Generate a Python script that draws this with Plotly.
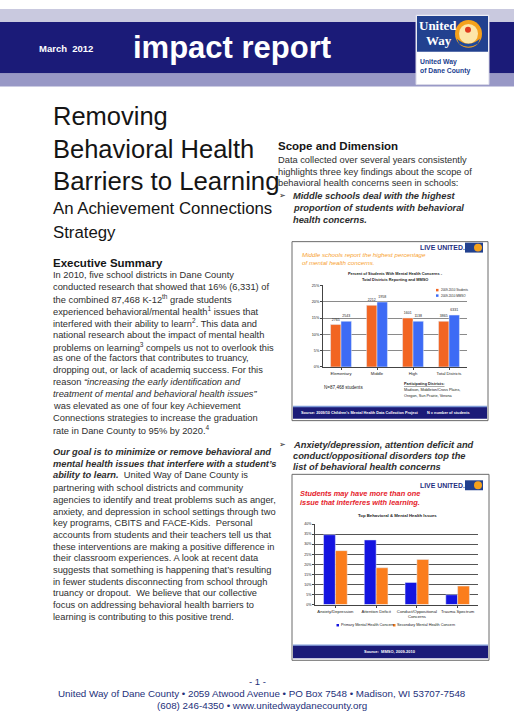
import plotly.graph_objects as go

W, H = 514, 713
def px(x): return x / W
def py(y): return 1 - y / H

# ---------------- data ----------------
levels = ["Elementary", "Middle", "High", "Total Districts"]
pct_students = [13.0, 18.9, 15.0, 14.0]
pct_mmso = [14.0, 19.9, 14.0, 15.9]
n_students = ["2765", "2212", "1601", "3865"]
n_mmso = ["2543", "1958", "1138", "6331"]
y1_ticks = [0, 5, 10, 15, 20, 25]

issues = ["Anxiety/Depression", "Attention Deficit", "Conduct/Oppositional<br>Concerns", "Trauma Spectrum"]
primary = [34.7, 32.1, 11.0, 4.9]
secondary = [26.8, 18.3, 22.4, 9.2]
y2_ticks = [0, 5, 10, 15, 20, 25, 30, 35, 40]

FONT = "Liberation Sans, Arial, sans-serif"
SERIF = "Liberation Serif, DejaVu Serif, serif"
BODY = "#2e2e2e"
NAVY = "#1b1b78"
OR1, BL1 = "#f26522", "#3d6bf5"
OR2, BL2 = "#fb7d1c", "#1414e0"

fig = go.Figure()
fig.add_trace(go.Bar(x=levels, y=pct_students, name="2009-2010 Students", marker_color=OR1,
                     text=n_students, textposition="outside", cliponaxis=False,
                     textfont=dict(size=3.5, color="#222", family=FONT),
                     xaxis="x", yaxis="y", showlegend=False))
fig.add_trace(go.Bar(x=levels, y=pct_mmso, name="2009-2010 MMSO", marker_color=BL1,
                     text=n_mmso, textposition="outside", cliponaxis=False,
                     textfont=dict(size=3.5, color="#222", family=FONT),
                     xaxis="x", yaxis="y", showlegend=False))
fig.add_trace(go.Bar(x=issues, y=primary, name="Primary Mental Health Concern", marker_color=BL2,
                     xaxis="x2", yaxis="y2", showlegend=False))
fig.add_trace(go.Bar(x=issues, y=secondary, name="Secondary Mental Health Concern", marker_color=OR2,
                     xaxis="x2", yaxis="y2", showlegend=False))

shapes = []
ann = []

def R(x0, y0, x1, y1, fill, line=None, lw=0, layer="below"):
    shapes.append(dict(type="rect", xref="paper", yref="paper", x0=px(x0), x1=px(x1),
                       y0=py(y1), y1=py(y0), fillcolor=fill, layer=layer,
                       line=dict(color=line or fill, width=lw)))

def C(x0, y0, x1, y1, fill, layer="above"):
    shapes.append(dict(type="circle", xref="paper", yref="paper", x0=px(x0), x1=px(x1),
                       y0=py(y1), y1=py(y0), fillcolor=fill, layer=layer, line=dict(width=0)))

def T(x, y, text, size=9.3, color=BODY, anchor="left", family=FONT):
    ann.append(dict(x=px(x), y=py(y), xref="paper", yref="paper", text=text, showarrow=False,
                    xanchor=anchor, yanchor="middle", borderpad=0,
                    font=dict(size=size, color=color, family=family)))

# ---------------- header ----------------
R(0, 7, W, 20, "#c9c9df")
R(0, 20, W, 72, NAVY)
R(0, 72, W, 85, "#9898c6")
T(38, 47, "<b>March  2012</b>", 9.5, "white")
T(132, 46, "<b>impact report</b>", 31, "white")
# logo
R(416, 13, 489, 83, "white", "#d8d8e8", 1)
R(417, 14, 488, 50, "#22418f")
T(418, 24, "<b>United</b>", 13, "white", family=SERIF)
T(453, 39, "<b>Way</b>", 13, "white", "right", family=SERIF)
C(455, 18, 482, 46, "#f5a11c")
C(459, 22, 478, 42, "#fde6a8")
C(465, 25, 471, 31, "#e03a1e")
shapes.append(dict(type="path", xref="paper", yref="paper", layer="above",
                   path=f"M {px(457)} {py(37)} Q {px(468)} {py(47)} {px(480)} {py(37)} L {px(478)} {py(42)} Q {px(468)} {py(48)} {px(459)} {py(42)} Z",
                   fillcolor="#1f4a9c", line=dict(width=0)))
T(419, 60, "<b>United Way</b>", 6.8, "#22418f")
T(419, 69, "<b>of Dane County</b>", 6.8, "#22418f")

# ---------------- left column ----------------
T(52, 115, "Removing", 25.5, "#151515")
T(52, 148, "Behavioral Health", 25.5, "#151515")
T(52, 180, "Barriers to Learning", 25.8, "#151515")
T(52, 208, "An Achievement Connections", 16.8, "#151515")
T(52, 232, "Strategy", 16.8, "#151515")
T(52, 262, "<b>Executive Summary</b>", 11.5, "#151515")

summary = [
    "In 2010, five school districts in Dane County",
    "conducted research that showed that 16% (6,331) of",
    "the combined 87,468 K-12<sup>th</sup> grade students",
    "experienced behavioral/mental health<sup>1</sup> issues that",
    "interfered with their ability to learn<sup>2</sup>. This data and",
    "national research about the impact of mental health",
    "problems on learning<sup>3</sup> compels us not to overlook this",
    "as one of the factors that contributes to truancy,",
    "dropping out, or lack of academiq success. For this",
    "reason <i>\u201cincreasing the early identification and</i>",
    "<i>treatment of mental and behavioral health issues\u201d</i>",
    "was elevated as one of four key Achievement",
    "Connections strategies to increase the graduation",
    "rate in Dane County to 95% by 2020.<sup>4</sup>",
]
for i, line in enumerate(summary):
    T(52, 275 + i * 11.92, line)

goal = [
    "<b><i>Our goal is to minimize or remove behavioral and</i></b>",
    "<b><i>mental health issues that interfere with a student\u2019s</i></b>",
    "<b><i>ability to learn.</i></b>  United Way of Dane County is",
    "partnering with school districts and community",
    "agencies to identify and treat problems such as anger,",
    "anxiety, and depression in school settings through two",
    "key programs, CBITS and FACE-Kids.  Personal",
    "accounts from students and their teachers tell us that",
    "these interventions are making a positive difference in",
    "their classroom experiences. A look at recent data",
    "suggests that something is happening that\u2019s resulting",
    "in fewer students disconnecting from school through",
    "truancy or dropout.  We believe that our collective",
    "focus on addressing behavioral health barriers to",
    "learning is contributing to this positive trend.",
]
for i, line in enumerate(goal):
    T(52, 453 + i * 11.2 if i < 3 else 489 + (i - 3) * 11.75, line)

# ---------------- right column ----------------
T(277, 145, "<b>Scope and Dimension</b>", 11.5, "#151515")
T(277, 159, "Data collected over several years consistently")
T(277, 171, "highlights three key findings about the scope of")
T(277, 182, "behavioral health concerns seen in schools:")
T(278, 195, "\u27a2", 8, "#222")
T(292, 195, "<b><i>Middle schools deal with the highest</i></b>")
T(292, 207, "<b><i>proportion of students with behavioral</i></b>")
T(292, 219, "<b><i>health concerns.</i></b>")
T(278, 445, "\u27a2", 8, "#222")
T(292, 445, "<b><i>Anxiety/depression, attention deficit and</i></b>")
T(292, 457, "<b><i>conduct/oppositional disorders top the</i></b>")
T(292, 468, "<b><i>list of behavioral health concerns</i></b>")

# ---------------- chart boxes ----------------
def live_united(y):
    T(419, y, "<b>LIVE UNITED.</b>", 6.9, "#1f2f7f")
    R(465, y - 5, 483, y + 5, "#22418f", layer="above")
    C(474, y - 4, 482, y + 4, "#f5a11c")

# chart 1 box
R(292, 241, 488, 421, "white", "#6a6a6a", 1)
live_united(247)
T(301, 254, "<i>Middle schools report the highest percentage</i>", 6.2, "#f7a12e")
T(301, 262, "<i>of mental health concerns.</i>", 6.2, "#f7a12e")
T(395, 273, "<b>Percent of Students With Mental Health Concerns -</b>", 3.9, "#222", "center")
T(395, 279, "<b>Total Districts Reporting and MMSO</b>", 3.9, "#222", "center")
R(436, 288.5, 438.5, 291, OR1, layer="above")
T(439.5, 289.8, "2009-2010 Students", 3, "#222")
R(436, 294, 438.5, 296.5, BL1, layer="above")
T(439.5, 295.3, "2009-2010 MMSO", 3, "#222")
T(323, 388, "N=87,468 students", 4.6, "#222")
T(403, 384, "<b><u>Participating Districts:</u></b>", 3.8, "#222")
T(403, 390.5, "Madison, Middleton/Cross Plains,", 3.8, "#222")
T(403, 396.5, "Oregon, Sun Prairie, Verona", 3.8, "#222")
R(293, 407, 487, 419, NAVY, layer="above")
R(293, 406, 487, 407.5, "#7f9bd8", layer="above")
T(300, 413, "<b>Source: 2009/10 Children\u2019s Mental Health Data Collection Project</b>", 3.8, "white")
T(426, 413, "<b>N = number of students</b>", 3.8, "white")

# chart 2 box
R(292, 475, 489, 662, "white", "#6a6a6a", 1)
live_united(486)
T(299, 494, "<i><b>Students may have more than one</b></i>", 7.4, "#e5222b")
T(299, 503, "<i><b>issue that interferes with learning.</b></i>", 7.4, "#e5222b")
T(397, 516, "<b>Top Behavioral & Mental Health Issues</b>", 4.3, "#222", "center")
R(336.5, 625.5, 339, 628, BL2, layer="above")
T(339.8, 627, "Primary Mental Health Concern", 3.8, "#222")
R(393, 625.5, 395.5, 628, OR2, layer="above")
T(396.3, 627, "Secondary Mental Health Concern", 3.8, "#222")
R(293, 647, 488, 660, NAVY, layer="above")
R(293, 646, 488, 647.5, "#7f9bd8", layer="above")
T(390, 653, "<b>Source:  MMSO, 2009-2010</b>", 4, "white", "center")

# ---------------- footer ----------------
T(257, 683, "- 1 -", 9.5, "#24307a", "center")
T(262, 695, "United Way of Dane County \u2022 2059 Atwood Avenue \u2022 PO Box 7548 \u2022 Madison, WI 53707-7548", 9.8, "#24307a", "center")
T(262, 707, "(608) 246-4350 \u2022 www.unitedwaydanecounty.org", 9.8, "#24307a", "center")

fig.update_layout(
    width=W, height=H, margin=dict(l=0, r=0, t=0, b=0),
    paper_bgcolor="white", plot_bgcolor="white",
    barmode="group", bargap=0.42, bargroupgap=0.0,
    shapes=shapes, annotations=ann, showlegend=False,
    font=dict(family=FONT),
    xaxis=dict(domain=[px(323), px(467)], anchor="y", showline=True, linecolor="#444", linewidth=0.8,
               tickfont=dict(size=4.2, color="#222"), ticks="outside", ticklen=2, tickcolor="#444",
               fixedrange=True),
    yaxis=dict(domain=[py(367), py(285)], anchor="x", range=[0, 25], tickvals=y1_ticks,
               ticktext=[f"{v}%" for v in y1_ticks], tickfont=dict(size=3.8, color="#222"),
               showgrid=True, gridcolor="#8a8a8a", gridwidth=0.6, showline=True, linecolor="#444",
               linewidth=0.8, ticks="outside", ticklen=2, tickcolor="#444", zeroline=False),
    xaxis2=dict(domain=[px(315), px(478)], anchor="y2", showline=True, linecolor="#444", linewidth=0.8,
                tickfont=dict(size=4.2, color="#222"), ticks="outside", ticklen=2, tickcolor="#444"),
    yaxis2=dict(domain=[py(606), py(525)], anchor="x2", range=[0, 40], tickvals=y2_ticks,
                ticktext=[f"{v}%" for v in y2_ticks], tickfont=dict(size=3.6, color="#222"),
                showgrid=True, gridcolor="#555", gridwidth=0.7, showline=True, linecolor="#444",
                linewidth=0.8, ticks="outside", ticklen=2, tickcolor="#444", zeroline=False),
)

fig.write_html("out.html")
